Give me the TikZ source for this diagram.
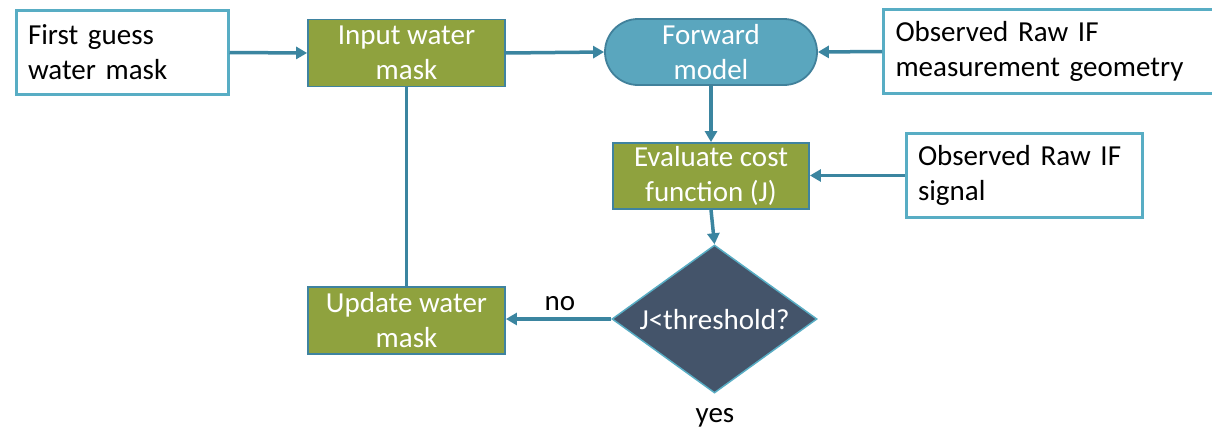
\documentclass[tikz,border=0pt]{standalone}
\usepackage{fontspec}
\setmainfont{Carlito}[WordSpace={1,0,0}]
\usetikzlibrary{shapes.geometric,arrows.meta}
\definecolor{lightteal}{HTML}{58ADC4}
\definecolor{conn}{HTML}{3B85A0}
\definecolor{olivebox}{HTML}{8FA23E}
\definecolor{greenline}{HTML}{3F83A0}
\definecolor{fwfill}{HTML}{5AA6BE}
\definecolor{fwline}{HTML}{41819B}
\definecolor{slatefill}{HTML}{44546A}
\begin{document}
\begin{tikzpicture}[x=1pt,y=-1pt,
  font=\fontsize{29}{35}\selectfont,
  whitebox/.style={draw=lightteal, line width=3pt, fill=white, align=left,
    inner xsep=12pt, inner ysep=0pt, minimum height=84pt},
  greenbox/.style={draw=greenline, line width=1.8pt, fill=olivebox, text=white,
    align=center, inner sep=0pt, minimum width=197pt, minimum height=67pt},
  fwbox/.style={draw=fwline, line width=1.8pt, fill=fwfill, text=white,
    align=center, rounded corners=33pt, inner sep=0pt, minimum width=212pt, minimum height=66pt},
  dia/.style={draw=lightteal, line width=1.5pt, fill=slatefill, shape=diamond,
    inner sep=0pt, minimum width=205pt, minimum height=148pt},
  arr/.style={draw=conn, line width=3.5pt, -{Triangle[length=11pt,width=12pt]}},
  plain/.style={draw=conn, line width=3.5pt},
  lbl/.style={inner sep=0pt, text=black}
]
\clip (0,0) rectangle (1212,431);
\fill[white] (0,0) rectangle (1212,431);

\node[whitebox, text width=188pt] (fg) at (122,52.5) {First guess\\water mask};
\node[greenbox] (in) at (406.5,53) {Input water\\mask};
\node[fwbox] (fw) at (711,52) {Forward\\model};
\node[whitebox, anchor=west, text width=336pt] (geo) at (882,51.5) {Observed Raw IF\\measurement geometry};
\node[greenbox, minimum width=196pt, minimum height=66pt] (ev) at (711,176) {Evaluate cost\\function (J)};
\node[whitebox, text width=212pt] (sig) at (1024,175.5) {Observed Raw IF\\signal};
\node[greenbox] (up) at (406.5,320.5) {Update water\\mask};
\node[dia] (d) at (714.5,319) {};
\node[lbl, text=white] (dt) at (714.5,320) {J<threshold?};
\node[lbl] (no) at (560,304) {no};
\node[lbl] (yes) at (715,418) {yes};

\draw[arr] (fg.east) -- (in.west);
\draw[arr] (in.east) -- (fw.west);
\draw[arr] (geo.west) -- (fw.east);
\draw[arr] (fw.south) -- (ev.north);
\draw[arr] (sig.west) -- (ev.east |- sig.west);
\draw[arr] (ev.south) -- (d.north);
\draw[arr] (d.west) -- (up.east |- d.west);
\draw[plain] (up.north) -- (in.south);
\end{tikzpicture}
\end{document}
